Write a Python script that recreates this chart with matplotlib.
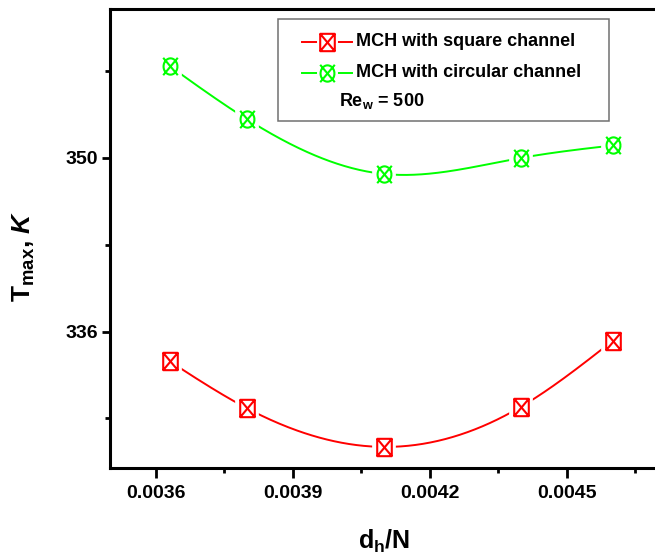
import numpy as np
import matplotlib
matplotlib.use("Agg")
import matplotlib.pyplot as plt
from matplotlib.path import Path
from matplotlib.lines import Line2D
from matplotlib.patches import Rectangle
from matplotlib import font_manager

# ---------------- data ----------------
dh_over_N = [0.00363, 0.0038, 0.0041, 0.0044, 0.0046]
t_square = [333.6, 329.8, 326.7, 329.95, 335.25]
t_circular = [357.4, 353.1, 348.7, 350.0, 351.0]
series_labels = ["MCH with square channel", "MCH with circular channel"]
note_text = "Re$_{\\mathrm{w}}$ = 500"
x_ticks = [0.0036, 0.0039, 0.0042, 0.0045]
x_tick_labels = ["0.0036", "0.0039", "0.0042", "0.0045"]
y_ticks = [336, 350]
y_tick_labels = ["336", "350"]

plt.rcParams['font.family'] = ['Liberation Sans', 'DejaVu Sans']
plt.rcParams['font.weight'] = 'bold'
plt.rcParams['mathtext.fontset'] = 'custom'
plt.rcParams['mathtext.rm'] = 'Liberation Sans:bold'
plt.rcParams['mathtext.bf'] = 'Liberation Sans:bold'
plt.rcParams['mathtext.it'] = 'Liberation Sans:italic:bold'

names = {f.name for f in font_manager.fontManager.ttflist}
if 'Liberation Sans Narrow' in names:
    tick_family, tick_size = ['Liberation Sans Narrow', 'Liberation Sans'], 16.5
else:
    tick_family, tick_size = ['Liberation Sans'], 14

W, H = 655, 560
fig = plt.figure(figsize=(W / 100, H / 100), dpi=100)

def fx(px):
    return px / W

def fy(py):
    return 1 - py / H

ax = fig.add_axes([fx(110.3), fy(468), fx(658.3) - fx(110.3), fy(9) - fy(468)])
ax.set_xlim(0.0035, 0.0047)
ax.set_ylim(325, 362)

# markers
rect_x = Path(
    [(-0.42, -0.5), (0.42, -0.5), (0.42, 0.5), (-0.42, 0.5), (-0.42, -0.5),
     (-0.42, -0.5), (0.42, 0.5), (-0.42, 0.5), (0.42, -0.5)],
    [Path.MOVETO, Path.LINETO, Path.LINETO, Path.LINETO, Path.CLOSEPOLY,
     Path.MOVETO, Path.LINETO, Path.MOVETO, Path.LINETO])
t = np.linspace(0, 2 * np.pi, 41)
ell_v = list(zip(0.4 * np.cos(t), 0.47 * np.sin(t)))
ell_c = [Path.MOVETO] + [Path.LINETO] * (len(ell_v) - 1)
ell_x = Path(ell_v + [(-0.42, -0.5), (0.42, 0.5), (-0.42, 0.5), (0.42, -0.5)],
             ell_c + [Path.MOVETO, Path.LINETO, Path.MOVETO, Path.LINETO])
rect_fill = Path([(-0.42, -0.5), (0.42, -0.5), (0.42, 0.5), (-0.42, 0.5), (-0.42, -0.5)],
                 [Path.MOVETO, Path.LINETO, Path.LINETO, Path.LINETO, Path.CLOSEPOLY])


def natural_spline(x, y, xs):
    x = np.asarray(x, float)
    y = np.asarray(y, float)
    n = len(x)
    h = np.diff(x)
    A = np.zeros((n, n))
    b = np.zeros(n)
    A[0, 0] = 1
    A[-1, -1] = 1
    for i in range(1, n - 1):
        A[i, i - 1] = h[i - 1]
        A[i, i] = 2 * (h[i - 1] + h[i])
        A[i, i + 1] = h[i]
        b[i] = 6 * ((y[i + 1] - y[i]) / h[i] - (y[i] - y[i - 1]) / h[i - 1])
    M = np.linalg.solve(A, b)
    out = np.empty_like(xs)
    for k, xv in enumerate(xs):
        i = min(max(np.searchsorted(x, xv) - 1, 0), n - 2)
        dx1 = x[i + 1] - xv
        dx0 = xv - x[i]
        out[k] = (M[i] * dx1 ** 3 + M[i + 1] * dx0 ** 3) / (6 * h[i]) \
            + (y[i] / h[i] - M[i] * h[i] / 6) * dx1 \
            + (y[i + 1] / h[i] - M[i + 1] * h[i] / 6) * dx0
    return out


ms = 12.5
for yvals, color, mk in [(t_square, '#ff0000', rect_x), (t_circular, '#00ff00', ell_x)]:
    xs = np.linspace(dh_over_N[0], dh_over_N[-1], 300)
    ax.plot(xs, natural_spline(dh_over_N, yvals, xs), color=color, lw=1.4, zorder=2)
    ax.plot(dh_over_N, yvals, ls='none', marker=rect_fill, ms=ms, mfc='white',
            mec='white', mew=7, zorder=3)
    ax.plot(dh_over_N, yvals, ls='none', marker=mk, ms=ms, mfc='none',
            mec=color, mew=1.5, zorder=4)

# axes styling
for s in ['left', 'bottom', 'top', 'right']:
    ax.spines[s].set_linewidth(2.2)
ax.set_xticks(x_ticks)
ax.set_xticklabels(x_tick_labels, family=tick_family, fontsize=tick_size, fontweight='bold')
ax.set_yticks(y_ticks)
ax.set_yticklabels(y_tick_labels, family=tick_family, fontsize=tick_size, fontweight='bold')
ax.set_xticks([0.00375, 0.00405, 0.00435, 0.00465], minor=True)
ax.set_yticks([329, 343, 357], minor=True)
ax.tick_params(axis='both', which='major', direction='out', width=2)
ax.tick_params(axis='x', which='major', length=7, pad=5)
ax.tick_params(axis='y', which='major', length=6, pad=3)
ax.tick_params(axis='both', which='minor', direction='out', width=2, length=3.5)
ax.tick_params(top=False, right=False, which='both')

fig.text(fx(384), fy(541), "d$_{\\mathrm{h}}$/N", fontsize=18, fontweight='bold',
         ha='center', va='center')
fig.text(fx(24), fy(256), "T$_{\\mathrm{max}}$, $\\mathit{K}$", fontsize=19,
         fontweight='bold', rotation=90, ha='center', va='center')

# legend box
fig.patches.append(Rectangle((fx(278), fy(121)), fx(609) - fx(278), fy(19) - fy(121),
                             transform=fig.transFigure, fill=True, facecolor='white',
                             edgecolor='#707070', lw=1.1, zorder=5))
rows = [(41.5, '#ff0000', rect_x, series_labels[0]),
        (72.5, '#00ff00', ell_x, series_labels[1])]
for py, color, mk, lab in rows:
    fig.add_artist(Line2D([fx(302), fx(352)], [fy(py), fy(py)], color=color, lw=1.4,
                          transform=fig.transFigure, zorder=6))
    fig.add_artist(Line2D([fx(327)], [fy(py)], marker=rect_fill, ms=ms, mfc='white',
                          mec='white', mew=5, transform=fig.transFigure, zorder=7))
    fig.add_artist(Line2D([fx(327)], [fy(py)], marker=mk, ms=ms, mfc='none',
                          mec=color, mew=1.5, transform=fig.transFigure, zorder=8))
    fig.text(fx(356), fy(py), lab, fontsize=13, fontweight='bold', ha='left',
             va='center', zorder=9)
fig.text(fx(339), fy(101), note_text, fontsize=13, fontweight='bold', ha='left',
         va='center', zorder=9)

fig.savefig("out.png", dpi=100)
